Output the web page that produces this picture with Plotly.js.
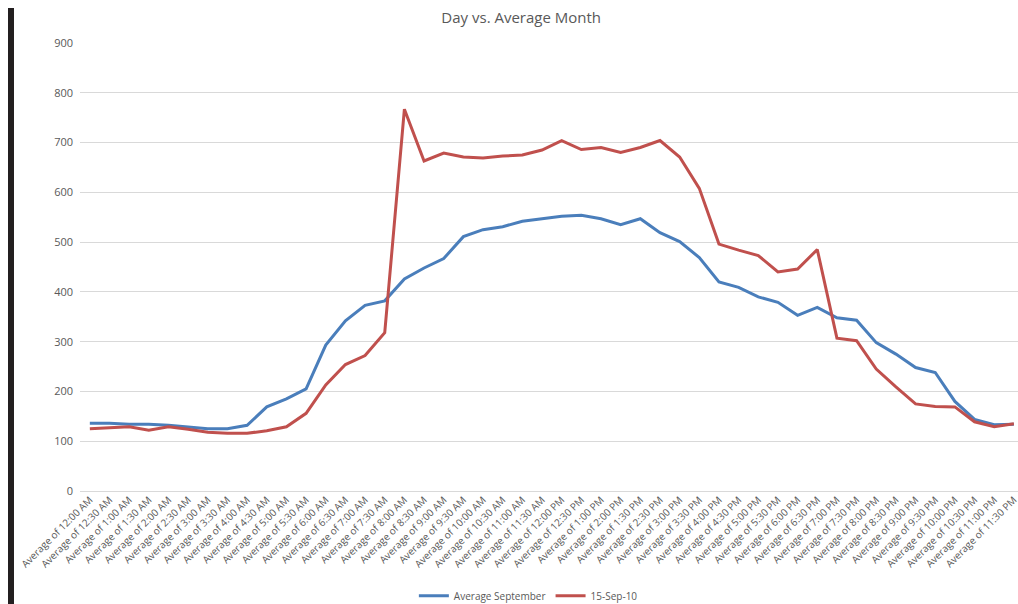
<!DOCTYPE html>
<html>
<head>
<meta charset="utf-8">
<script src="https://cdn.plot.ly/plotly-3.0.1.min.js"></script>
<style>
html,body{margin:0;padding:0;background:#fff;overflow:hidden;}
#bar{position:absolute;left:8px;top:8px;width:6px;height:600px;background:#231f20;}
#chart{position:absolute;left:0;top:0;width:1018px;height:604px;}
</style>
</head>
<body>
<div id="chart"></div>
<div id="bar"></div>
<script>
const categories = [
 "Average of 12:00 AM","Average of 12:30 AM","Average of 1:00 AM","Average of 1:30 AM",
 "Average of 2:00 AM","Average of 2:30 AM","Average of 3:00 AM","Average of 3:30 AM",
 "Average of 4:00 AM","Average of 4:30 AM","Average of 5:00 AM","Average of 5:30 AM",
 "Average of 6:00 AM","Average of 6:30 AM","Average of 7:00 AM","Average of 7:30 AM",
 "Average of 8:00 AM","Average of 8:30 AM","Average of 9:00 AM","Average of 9:30 AM",
 "Average of 10:00 AM","Average of 10:30 AM","Average of 11:00 AM","Average of 11:30 AM",
 "Average of 12:00 PM","Average of 12:30 PM","Average of 1:00 PM","Average of 2:00 PM",
 "Average of 1:30 PM","Average of 2:30 PM","Average of 3:00 PM","Average of 3:30 PM",
 "Average of 4:00 PM","Average of 4:30 PM","Average of 5:00 PM","Average of 5:30 PM",
 "Average of 6:00 PM","Average of 6:30 PM","Average of 7:00 PM","Average of 7:30 PM",
 "Average of 8:00 PM","Average of 8:30 PM","Average of 9:00 PM","Average of 9:30 PM",
 "Average of 10:00 PM","Average of 10:30 PM","Average of 11:00 PM","Average of 11:30 PM"
];
const avgSeptember = [
 136,136,134,134,132,128,125,125,132,169,185,205,
 293,342,373,382,426,448,467,511,525,531,542,547,
 552,554,547,535,547,519,501,469,420,409,390,379,
 353,369,348,343,298,275,248,238,180,144,133,134
];
const sep15 = [
 125,127,129,122,129,124,118,116,116,121,129,156,
 213,254,272,318,767,663,679,671,669,673,675,685,
 704,686,690,680,690,704,671,608,496,484,473,440,
 446,485,307,302,245,209,175,170,169,139,129,135
];
const seriesNames = ["Average September","15-Sep-10"];
const yTicks = [0,100,200,300,400,500,600,700,800,900];

const grey = "#595959";
const traces = [
 {x:categories, y:avgSeptember, name:seriesNames[0], type:"scatter", mode:"lines",
  line:{color:"#4a7ebb", width:3}},
 {x:categories, y:sep15, name:seriesNames[1], type:"scatter", mode:"lines",
  line:{color:"#c0504d", width:3}}
];
const layout = {
 width:1018, height:604,
 margin:{l:80, r:0, t:43, b:113, autoexpand:false},
 paper_bgcolor:"#fff", plot_bgcolor:"#fff",
 font:{family:"Open Sans, Liberation Sans, sans-serif", color:grey, size:11},
 title:{text:"Day vs. Average Month", x:0.512, xanchor:"center", y:0.97, yanchor:"middle",
  font:{size:15, color:grey, family:"Open Sans, Liberation Sans, sans-serif"}},
 xaxis:{type:"category", range:[-0.5,47.21], tickangle:-45, showgrid:false, showline:false,
  zeroline:false, ticks:"", tickfont:{size:10, color:grey}, fixedrange:true, automargin:false},
 yaxis:{range:[0,900], tickvals:yTicks, showgrid:true, gridcolor:"#d9d9d9", gridwidth:1,
  zeroline:true, zerolinecolor:"#d9d9d9", zerolinewidth:1, showline:false, ticks:"",
  tickfont:{size:11, color:grey}, ticklabelstandoff:6, fixedrange:true, automargin:false},
 showlegend:true,
 legend:{orientation:"h", x:0.478, xanchor:"center", y:-0.234, yanchor:"middle",
  font:{size:10, color:grey}, bgcolor:"rgba(0,0,0,0)", itemwidth:30, tracegroupgap:0}
};
Plotly.newPlot("chart", traces, layout, {displayModeBar:false, staticPlot:true});
</script>
</body>
</html>
